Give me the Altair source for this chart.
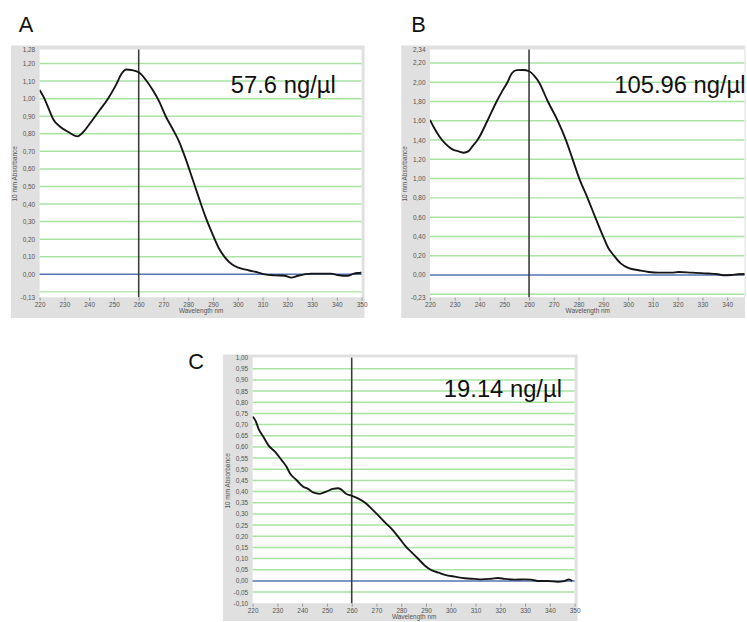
import altair as alt
import pandas as pd

# ---------------- data ----------------
A_WL = [220, 221.6, 223.6, 225.6, 228.3, 231.6, 235.2, 237.6, 240.9, 244.3, 247.6, 250.9, 253, 255, 257,
        260, 262.9, 265.6, 268.3, 270.9, 273.6, 276.3, 278.9, 281.6, 284.3, 286.9, 289.6, 292.3, 294.9,
        297.6, 300.3, 304.3, 308.3, 310.9, 314.9, 318.9, 321.6, 324.3, 329.6, 337.6, 340.3, 344.3, 346.9,
        349.6, 350]
A_ABS = [1.05, 1.01, 0.945, 0.88, 0.84, 0.81, 0.785, 0.81, 0.87, 0.935, 1.00, 1.08, 1.14, 1.166, 1.163,
         1.15, 1.106, 1.05, 0.983, 0.90, 0.83, 0.756, 0.66, 0.548, 0.435, 0.33, 0.236, 0.15, 0.095,
         0.057, 0.038, 0.023, 0.01, 0.0, -0.006, -0.008, -0.019, -0.008, 0.004, 0.004, -0.004, -0.009, 0.004,
         0.009, 0.01]

B_WL = [220, 221.6, 223.6, 226.3, 228.9, 231.6, 233.6, 235.6, 237.3, 239.2, 243.2, 246.9, 249, 251.3, 253,
        255, 257.6, 260, 262.3, 264, 267.6, 271.6, 274.9, 277.6, 280.3, 283.6, 286.7, 289.9, 292, 294.3,
        297, 300.3, 304.3, 308.3, 312.3, 317.6, 320.3, 325.6, 330.9, 336.3, 338.9, 341.6, 344.3, 347, 350]
B_ABS = [1.61, 1.53, 1.445, 1.36, 1.306, 1.282, 1.268, 1.285, 1.34, 1.40, 1.60, 1.80, 1.90, 2.00, 2.09,
         2.125, 2.127, 2.114, 2.06, 2.00, 1.80, 1.60, 1.40, 1.20, 1.00, 0.80, 0.60, 0.40, 0.28, 0.20,
         0.12, 0.07, 0.049, 0.031, 0.024, 0.024, 0.031, 0.024, 0.017, 0.007, -0.003, 0.0, 0.007, 0.01, 0.01]

C_WL = [220, 221.1, 222.4, 224.4, 226.4, 229.1, 231.7, 233.7, 235.1, 237.7, 240.4, 242.4, 244.4, 247.1,
        249.7, 252.4, 254.4, 255.7, 257.7, 260, 263.1, 265.7, 268.4, 271.1, 273.7, 276.4, 279.1, 281.7,
        284.4, 287.1, 289.7, 292.4, 295.1, 297.7, 301.7, 305.7, 309.7, 312.4, 316.4, 319.1, 321.7, 325.7,
        329.7, 332.4, 335.1, 339.1, 343.1, 345.7, 347.7, 349]
C_ABS = [0.736, 0.719, 0.681, 0.644, 0.607, 0.578, 0.541, 0.511, 0.481, 0.452, 0.422, 0.412, 0.396, 0.39,
         0.40, 0.412, 0.415, 0.41, 0.39, 0.381, 0.366, 0.348, 0.319, 0.289, 0.259, 0.23, 0.193, 0.156,
         0.126, 0.096, 0.067, 0.047, 0.037, 0.027, 0.019, 0.012, 0.009, 0.007, 0.01, 0.013, 0.009, 0.006,
         0.007, 0.006, 0.0, 0.0, -0.004, -0.001, 0.007, 0.0]

X_TICKS = [220, 230, 240, 250, 260, 270, 280, 290, 300, 310, 320, 330, 340, 350]
MARKER_NM = [260]
ZERO = [0.0]

A_YLAB = [-0.13, 0.0, 0.1, 0.2, 0.3, 0.4, 0.5, 0.6, 0.7, 0.8, 0.9, 1.0, 1.1, 1.2, 1.28]
A_GRID = [-0.1, 0.1, 0.2, 0.3, 0.4, 0.5, 0.6, 0.7, 0.8, 0.9, 1.0, 1.1, 1.2]
B_YLAB = [-0.23, 0.0, 0.2, 0.4, 0.6, 0.8, 1.0, 1.2, 1.4, 1.6, 1.8, 2.0, 2.2, 2.34]
B_GRID = [-0.2, 0.2, 0.4, 0.6, 0.8, 1.0, 1.2, 1.4, 1.6, 1.8, 2.0, 2.2]
C_YLAB = [-0.1, -0.05, 0.0, 0.05, 0.1, 0.15, 0.2, 0.25, 0.3, 0.35, 0.4, 0.45, 0.5, 0.55, 0.6, 0.65,
          0.7, 0.75, 0.8, 0.85, 0.9, 0.95, 1.0]
C_GRID = [-0.05, 0.05, 0.1, 0.15, 0.2, 0.25, 0.3, 0.35, 0.4, 0.45, 0.5, 0.55, 0.6, 0.65, 0.7, 0.75,
          0.8, 0.85, 0.9, 0.95]

GREEN = "#a9e3a2"
BLUE = "#5673b3"
FRAME = "#e0e0e0"
LABEL_FONT = "Liberation Sans"


def panel(wl, ab, y_dom, y_lab, y_grid, x_dom, x_lab, w, h, conc, conc_xy, letter, letter_xy, box, frame):
    one = pd.DataFrame({"k": [0]})
    xs = alt.Scale(domain=x_dom, nice=False, zero=False)
    ys = alt.Scale(domain=y_dom, nice=False, zero=False)
    xaxis = alt.Axis(values=x_lab, title="Wavelength nm", grid=False, domain=False, ticks=True,
                     tickSize=3, tickColor="#9a9a9a", labelFontSize=6.5, labelColor="#555",
                     labelFont=LABEL_FONT, labelPadding=1, labelFlush=False, labelOverlap=False,
                     titleFont=LABEL_FONT, titleFontSize=6.5, titleFontWeight="normal",
                     titleColor="#555", titlePadding=0, zindex=1, format="d")
    yaxis = alt.Axis(values=y_lab, title="10 mm Absorbance", grid=False, domain=False, ticks=False,
                     labelFontSize=6.5, labelColor="#555", labelFont=LABEL_FONT, labelPadding=5,
                     labelFlush=False, labelOverlap=False,
                     labelExpr="replace(replace(format(datum.value, '.2f'), '.', ','), '\u2212', '-')",
                     titleFont=LABEL_FONT, titleFontSize=6.5, titleFontWeight="normal",
                     titleColor="#555", titlePadding=3, zindex=1)

    def X(f):
        return alt.X(f, type="quantitative", scale=xs, axis=xaxis)

    def Y(f):
        return alt.Y(f, type="quantitative", scale=ys, axis=yaxis)

    bounds = alt.Chart(one).mark_rect(opacity=0).encode(
        x=alt.value(box[0]), x2=alt.value(box[1]), y=alt.value(box[2]), y2=alt.value(box[3]))
    frm = alt.Chart(one).mark_rect(color=FRAME).encode(
        x=alt.value(frame[0]), x2=alt.value(frame[1]), y=alt.value(frame[2]), y2=alt.value(frame[3]))
    white = alt.Chart(one).mark_rect(color="white").encode(
        x=alt.value(0), x2=alt.value(w), y=alt.value(0), y2=alt.value(h))
    grid = alt.Chart(pd.DataFrame({"g": y_grid})).mark_rule(color=GREEN, strokeWidth=1.5).encode(y=Y("g"))
    zero = alt.Chart(pd.DataFrame({"z": ZERO})).mark_rule(color=BLUE, strokeWidth=1.5).encode(y=Y("z"))
    vline = alt.Chart(pd.DataFrame({"m": MARKER_NM})).mark_rule(color="#3c3c3c", strokeWidth=1.6).encode(x=X("m"))
    curve = alt.Chart(pd.DataFrame({"wl": wl, "ab": ab})).mark_line(
        color="#161616", strokeWidth=1.9, clip=True, interpolate="monotone").encode(x=X("wl"), y=Y("ab"))
    ctext = alt.Chart(one).mark_text(text=conc, font=LABEL_FONT, fontSize=24, align="left",
                                     baseline="alphabetic", color="#111").encode(
        x=alt.value(conc_xy[0]), y=alt.value(conc_xy[1]))
    ltext = alt.Chart(one).mark_text(text=letter, font=LABEL_FONT, fontSize=22, align="left",
                                     baseline="alphabetic", color="#111").encode(
        x=alt.value(letter_xy[0]), y=alt.value(letter_xy[1]))
    return alt.layer(bounds, frm, white, grid, zero, vline, curve, ctext, ltext).properties(width=w, height=h)


pA = panel(A_WL, A_ABS, [-0.13, 1.28], A_YLAB, A_GRID, [220, 350], X_TICKS, 325, 250,
           "57.6 ng/\u00b5l", (193, 44), "A", (-21, -18),
           box=(-39, 328, -46, 272), frame=(-29, 328, -4, 271))
pB = panel(B_WL, B_ABS, [-0.23, 2.34], B_YLAB, B_GRID, [220, 347], X_TICKS[:-1], 317.5, 250,
           "105.96 ng/\u00b5l", (186, 44), "B", (-19, -18),
           box=(-29, 318, -46, 272), frame=(-29, 318, -4, 271))
pC = panel(C_WL, C_ABS, [-0.10, 1.00], C_YLAB, C_GRID, [220, 350], X_TICKS, 325, 248,
           "19.14 ng/\u00b5l", (193, 40), "C", (-65, 12),
           box=(-66, 330, -13, 266), frame=(-30, 328, -3, 266))

# invisible (white) spacer that shifts panel C to the right
SPACER_W = 145
spacer = alt.Chart(pd.DataFrame({"k": [0]})).mark_rect(color="white").encode(
    x=alt.value(-2), x2=alt.value(SPACER_W + 2), y=alt.value(-2), y2=alt.value(3)
).properties(width=SPACER_W, height=1)

chart = alt.vconcat(
    alt.hconcat(pA, pB, spacing=33),
    alt.hconcat(spacer, pC, spacing=0),
    spacing=24,
    padding=0,
).configure_view(stroke="transparent", strokeWidth=0).configure(background="white")

chart.save("out.html", embed_options={"renderer": "svg", "actions": False})
